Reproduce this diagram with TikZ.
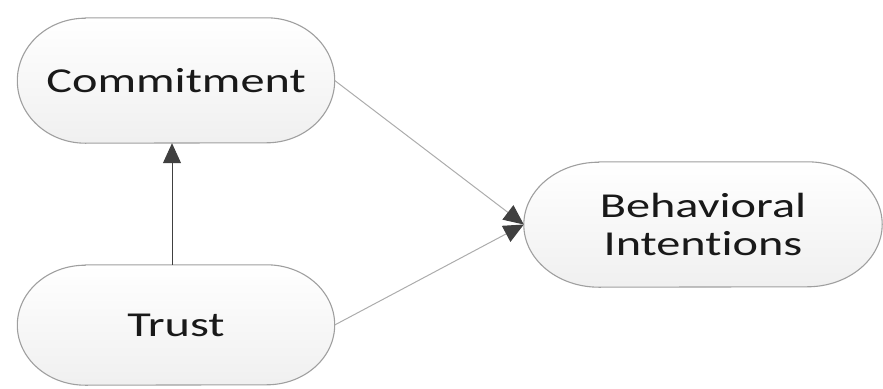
\documentclass[tikz,border=0pt]{standalone}
\usepackage{fontspec}
\setmainfont[FakeStretch=1.38, Ligatures=NoCommon]{Carlito}
\usetikzlibrary{arrows.meta, backgrounds}

\begin{document}
\begin{tikzpicture}[x=1pt, y=-1pt,
    construct/.style={align=center, inner sep=0pt, text=black!90,
        font=\fontsize{35}{38}\selectfont},
    outline/.style={draw=gray!75, line width=1.1pt,
        top color=white, middle color=white, bottom color=gray!12},
    link/.style={line width=1pt,
        -{Triangle[length=20pt, width=18pt, fill=black!75, color=black!75]}}]
    \useasboundingbox (0,0) rectangle (883,388);
    \node[construct, minimum width=317pt, minimum height=125pt] (commit) at (176,80.5) {Commitment};
    \node[construct, minimum width=317pt, minimum height=120pt] (trust) at (176,325) {Trust};
    \node[construct, minimum width=358pt, minimum height=125pt] (intent) at (703,224.5) {Behavioral\\Intentions};
    % capsule outlines behind the labels
    \begin{scope}[on background layer]
    \foreach \n/\rx/\ry in {commit/68/62.5, trust/68/60, intent/75/62.5}
        \draw[outline] ([xshift=\rx pt]\n.north west) -- ([xshift=-\rx pt]\n.north east)
            arc[start angle=90, end angle=-90, x radius=\rx pt, y radius=\ry pt]
            -- ([xshift=\rx pt]\n.south west)
            arc[start angle=270, end angle=90, x radius=\rx pt, y radius=\ry pt] -- cycle;
    \end{scope}
    \draw[link, draw=black!75] (trust.north -| 172,0) -- (commit.south -| 172,0);
    \draw[link, draw=gray!65] (commit.east) -- (intent.west);
    \draw[link, draw=gray!65] (trust.east) -- (intent.west);
\end{tikzpicture}
\end{document}
